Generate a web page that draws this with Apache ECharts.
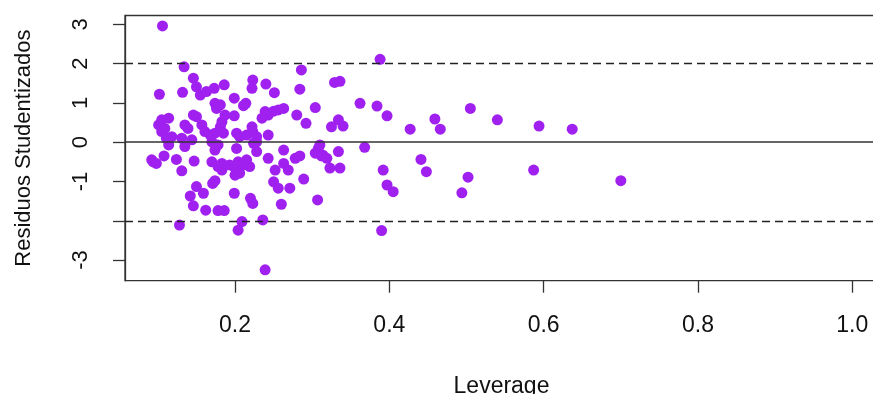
<!DOCTYPE html>
<html>
<head>
<meta charset="utf-8">
<script src="https://cdn.jsdelivr.net/npm/echarts@6/dist/echarts.min.js"></script>
<style>
  html, body { margin: 0; padding: 0; background: #fff; }
  #chart { width: 873px; height: 394px; }
</style>
</head>
<body>
<div id="chart"></div>
<script>
// leverage (hat values) and studentized residuals
const leverage = [
  0.106, 0.134, 0.146, 0.102, 0.132, 0.150, 0.155, 0.163, 0.173, 0.186,
  0.174, 0.176, 0.105, 0.114, 0.146, 0.150, 0.135, 0.139, 0.101, 0.105,
  0.109, 0.118, 0.161, 0.168, 0.174, 0.181, 0.183, 0.157, 0.111, 0.131,
  0.144, 0.170, 0.286, 0.284, 0.304, 0.292, 0.280, 0.223, 0.222, 0.240,
  0.251, 0.199, 0.214, 0.211, 0.181, 0.187, 0.199, 0.239, 0.243, 0.250,
  0.256, 0.263, 0.235, 0.243, 0.202, 0.206, 0.215, 0.222, 0.223, 0.228,
  0.185, 0.325, 0.388, 0.336, 0.329, 0.362, 0.384, 0.397, 0.505, 0.540,
  0.459, 0.466, 0.427, 0.334, 0.340, 0.594, 0.637, 0.228,
  0.092, 0.094, 0.098, 0.108, 0.124, 0.131, 0.147, 0.114, 0.135, 0.170,
  0.178, 0.183, 0.174, 0.178, 0.174, 0.171, 0.150, 0.159, 0.142, 0.146,
  0.162, 0.178, 0.186, 0.128, 0.202, 0.224, 0.228, 0.263, 0.243, 0.193,
  0.200, 0.204, 0.211, 0.215, 0.219, 0.206, 0.200, 0.183, 0.252, 0.263,
  0.269, 0.278, 0.284, 0.308, 0.314, 0.250, 0.256, 0.271, 0.289, 0.199,
  0.220, 0.223, 0.260, 0.307, 0.209, 0.204, 0.236, 0.239, 0.323, 0.310,
  0.304, 0.312, 0.319, 0.334, 0.368, 0.336, 0.392, 0.397, 0.405, 0.441,
  0.448, 0.502, 0.494, 0.390, 0.587, 0.700
];
const residuos = [
  2.96, 1.92, 1.63, 1.22, 1.27, 1.41, 1.20, 1.29, 1.37, 1.46,
  0.99, 0.86, 0.57, 0.61, 0.69, 0.65, 0.44, 0.35, 0.44, 0.27,
  0.35, 0.14, 0.27, 0.18, 0.23, 0.39, 0.52, 0.44, 0.10, 0.10,
  0.06, 0.01, 1.84, 1.35, 0.88, 0.48, 0.69, 1.58, 1.37, 1.48,
  1.26, 1.12, 0.99, 0.93, 0.95, 0.69, 0.67, 0.78, 0.69, 0.79,
  0.82, 0.86, 0.61, 0.18, 0.23, 0.14, 0.18, 0.39, 0.27, 0.14,
  0.23, 0.39, 2.11, 1.55, 1.52, 0.99, 0.92, 0.67, 0.86, 0.57,
  0.59, 0.33, 0.33, 0.57, 0.41, 0.41, 0.33, 0.01,
  -0.45, -0.50, -0.54, -0.35, -0.44, -0.73, -0.48, -0.07, -0.11, -0.50,
  -0.62, -0.54, -0.20, -0.07, -0.98, -1.05, -1.13, -1.30, -1.37, -1.62,
  -1.73, -1.74, -1.74, -2.11, -0.16, -0.03, -0.24, -0.20, -0.41, -0.58,
  -0.66, -0.50, -0.58, -0.45, -0.62, -0.79, -0.84, -0.71, -0.71, -0.54,
  -0.71, -0.41, -0.35, -0.16, -0.33, -1.01, -1.17, -1.17, -0.94, -1.30,
  -1.43, -1.56, -1.58, -1.47, -2.02, -2.24, -1.98, -3.25, -0.66, -0.07,
  -0.28, -0.35, -0.41, -0.24, -0.13, -0.66, -0.71, -1.09, -1.26, -0.44,
  -0.75, -0.89, -1.29, -2.25, -0.71, -0.98
];
const xTicks = [0.2, 0.4, 0.6, 0.8, 1.0];
const yTicks = [-3, -2, -1, 0, 1, 2, 3];
const yLabels = [-3, -1, 0, 1, 2, 3];   // R dropped the -2 label
const cutoffs = [-2, 2];

const chart = echarts.init(document.getElementById('chart'));
const font = '"Liberation Sans", Arial, sans-serif';

const option = {
  animation: false,
  backgroundColor: '#fff',
  grid: {
    left: 125, top: 15.5, right: -5, bottom: 113.3,
    outerBoundsMode: 'none',
    show: true, borderColor: '#333', borderWidth: 1.3
  },
  xAxis: {
    type: 'value',
    min: 0.0574, max: 1.0333,
    name: 'Leverage',
    nameLocation: 'middle',
    nameGap: 94,
    nameTextStyle: { color: '#111', fontSize: 23, fontFamily: font },
    axisLine: { show: false, onZero: false },
    axisTick: { show: true, length: 12, customValues: xTicks, lineStyle: { color: '#333', width: 1.3 } },
    axisLabel: {
      color: '#111', fontSize: 23, fontFamily: font, margin: 33,
      customValues: xTicks, formatter: v => v.toFixed(1)
    },
    splitLine: { show: false }
  },
  yAxis: {
    type: 'value',
    min: -3.526, max: 3.225,
    name: 'Residuos Studentizados',
    nameLocation: 'middle',
    nameRotate: 90,
    nameGap: 90,
    nameTextStyle: { color: '#111', fontSize: 22, fontFamily: font },
    axisLine: { show: true, onZero: false, lineStyle: { color: '#333', width: 1.3 } },
    axisTick: { show: true, length: 12, customValues: yTicks, lineStyle: { color: '#333', width: 1.3 } },
    axisLabel: {
      color: '#111', fontSize: 22, fontFamily: font, margin: 33, rotate: 90,
      customValues: yLabels, formatter: v => String(v)
    },
    splitLine: { show: false }
  },
  series: [{
    type: 'scatter',
    data: leverage.map((x, i) => [x, residuos[i]]),
    symbol: 'circle',
    symbolSize: 11,
    itemStyle: { color: '#A020F0', opacity: 1 },
    markLine: {
      silent: true,
      symbol: 'none',
      label: { show: false },
      data: [
        { yAxis: 0, lineStyle: { color: '#333', width: 1.5, type: 'solid' } },
        ...cutoffs.map(c => ({ yAxis: c, lineStyle: { color: '#222', width: 1.4, type: [8, 5] } }))
      ]
    }
  }]
};
chart.setOption(option);
</script>
</body>
</html>
